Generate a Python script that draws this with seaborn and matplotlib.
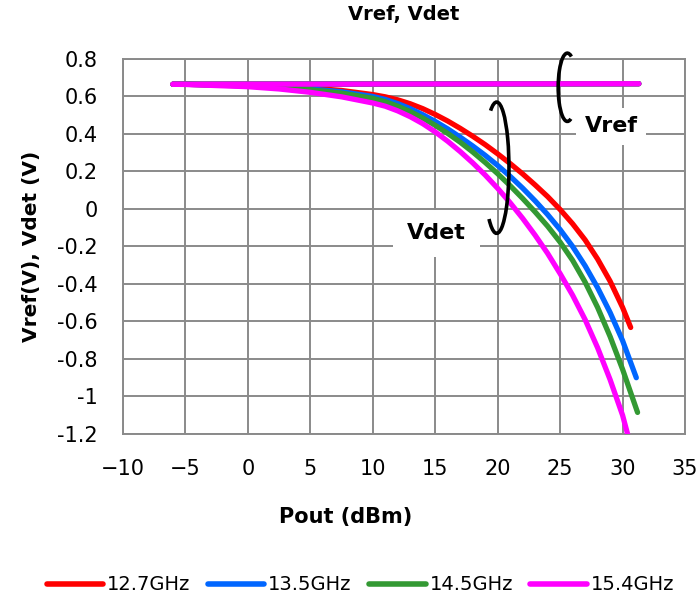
import matplotlib
matplotlib.use("Agg")
import matplotlib.pyplot as plt
from matplotlib.patches import Arc
from matplotlib.lines import Line2D
import seaborn as sns
import pandas as pd

# -------------------
# DATA
# -------------------
freqs = ["12.7GHz", "13.5GHz", "14.5GHz", "15.4GHz"]
colors = ["#ff0000", "#0066ff", "#339933", "#ff00ff"]

pout_base = [-6, -5, 0, 2.5, 5, 7.5, 10, 11, 12, 13, 14, 15, 16, 17, 18, 19, 20,
             21, 22, 23, 24, 25, 26, 27, 28, 29, 30]
pout_last = [30.65, 31.1, 31.2, 30.6]

vdet_127 = [0.665, 0.665, 0.658, 0.653, 0.645, 0.632, 0.610, 0.598, 0.582, 0.561,
            0.535, 0.504, 0.469, 0.430, 0.388, 0.343, 0.294, 0.242, 0.187, 0.128,
            0.066, -0.003, -0.079, -0.165, -0.267, -0.385, -0.525, -0.632]
vdet_135 = [0.665, 0.665, 0.657, 0.650, 0.640, 0.625, 0.600, 0.584, 0.562, 0.535,
            0.503, 0.467, 0.427, 0.383, 0.336, 0.286, 0.232, 0.174, 0.111, 0.043,
            -0.030, -0.110, -0.200, -0.303, -0.420, -0.552, -0.702, -0.900]
vdet_145 = [0.665, 0.665, 0.656, 0.648, 0.636, 0.618, 0.590, 0.572, 0.548, 0.519,
            0.485, 0.446, 0.403, 0.356, 0.304, 0.248, 0.188, 0.124, 0.056, -0.016,
            -0.092, -0.177, -0.274, -0.390, -0.525, -0.680, -0.855, -1.085]
vdet_154 = [0.665, 0.664, 0.652, 0.640, 0.622, 0.598, 0.565, 0.548, 0.523, 0.492,
            0.455, 0.411, 0.361, 0.306, 0.246, 0.181, 0.110, 0.033, -0.050, -0.140,
            -0.237, -0.345, -0.460, -0.590, -0.740, -0.910, -1.100, -1.250]

pout_ref = [-6, 31.3]
vref = [0.665, 0.668]

x_ticks = [-10, -5, 0, 5, 10, 15, 20, 25, 30, 35]
y_ticks = [-1.2, -1.0, -0.8, -0.6, -0.4, -0.2, 0.0, 0.2, 0.4, 0.6, 0.8]
y_ticklabels = ["-1.2", "-1", "-0.8", "-0.6", "-0.4", "-0.2", "0", "0.2", "0.4", "0.6", "0.8"]

# -------------------
# LONG TABLE
# -------------------
rows = []
for f, vd, xl in zip(freqs, [vdet_127, vdet_135, vdet_145, vdet_154], pout_last):
    for x, v in zip(pout_base + [xl], vd):
        rows.append({"freq": f, "kind": "Vdet", "pout": x, "v": v})
    for x, v in zip(pout_ref, vref):
        rows.append({"freq": f, "kind": "Vref", "pout": x, "v": v})
df = pd.DataFrame(rows)

# -------------------
# PLOT
# -------------------
sns.set_theme(style="white")
plt.rcParams["font.family"] = ["DejaVu Sans"]
plt.rcParams["text.color"] = "black"
plt.rcParams["axes.labelcolor"] = "black"
plt.rcParams["axes.titlecolor"] = "black"
grid_col = "#8a8a8a"

fig = plt.figure(figsize=(7.0, 6.01), dpi=100)
ax = fig.add_axes([0.1757, 0.2779, 0.8029, 0.624])

sns.lineplot(data=df, x="pout", y="v", hue="freq", units="kind", estimator=None,
             palette=colors, hue_order=freqs, sort=False, lw=3.8,
             solid_capstyle="round", solid_joinstyle="round", legend=False,
             ax=ax, zorder=3)

ax.set_xlim(-10, 35)
ax.set_ylim(-1.2, 0.8)
ax.set_xticks(x_ticks)
ax.set_yticks(y_ticks)
ax.set_yticklabels(y_ticklabels)
ax.grid(True, color=grid_col, lw=1.4)
for s in ax.spines.values():
    s.set_color(grid_col)
    s.set_linewidth(1.4)
ax.tick_params(axis="both", length=7, width=1.4, color=grid_col, direction="out",
               labelsize=15, labelcolor="black")
ax.tick_params(axis="y", pad=11)
ax.tick_params(axis="x", pad=11)

ax.set_xlabel("")
ax.set_ylabel("Vref(V), Vdet (V)", fontsize=14.5, fontweight="bold", labelpad=12)
ax.set_title("Vref, Vdet", fontsize=14, fontweight="bold", pad=28)
fig.text(346 / 700, 1 - 517 / 601, "Pout (dBm)", fontsize=15, fontweight="bold",
         ha="center", va="center")

# rings around the curves
ax.add_patch(Arc((19.92, 0.22), 1.97, 0.70, theta1=-156, theta2=148,
                 color="black", lw=2.6, zorder=5))
ax.add_patch(Arc((25.58, 0.649), 1.47, 0.364, theta1=27, theta2=329,
                 color="black", lw=2.6, zorder=5, clip_on=False))

ax.text(29.1, 0.44, "Vref", fontsize=16, fontweight="bold", ha="center",
        va="center", bbox=dict(facecolor="white", edgecolor="none", pad=6), zorder=4)
ax.text(15.1, -0.13, "Vdet", fontsize=16, fontweight="bold", ha="center",
        va="center", bbox=dict(facecolor="white", edgecolor="none", pad=10), zorder=4)

handles = [Line2D([0], [0], color=c, lw=4, solid_capstyle="round") for c in colors]
fig.legend(handles, freqs, loc="center", bbox_to_anchor=(0.515, 1 - 585 / 601),
           ncol=4, frameon=False, fontsize=14, handlelength=2.9,
           handletextpad=0.2, columnspacing=0.9)

fig.savefig("out.png", dpi=100)
